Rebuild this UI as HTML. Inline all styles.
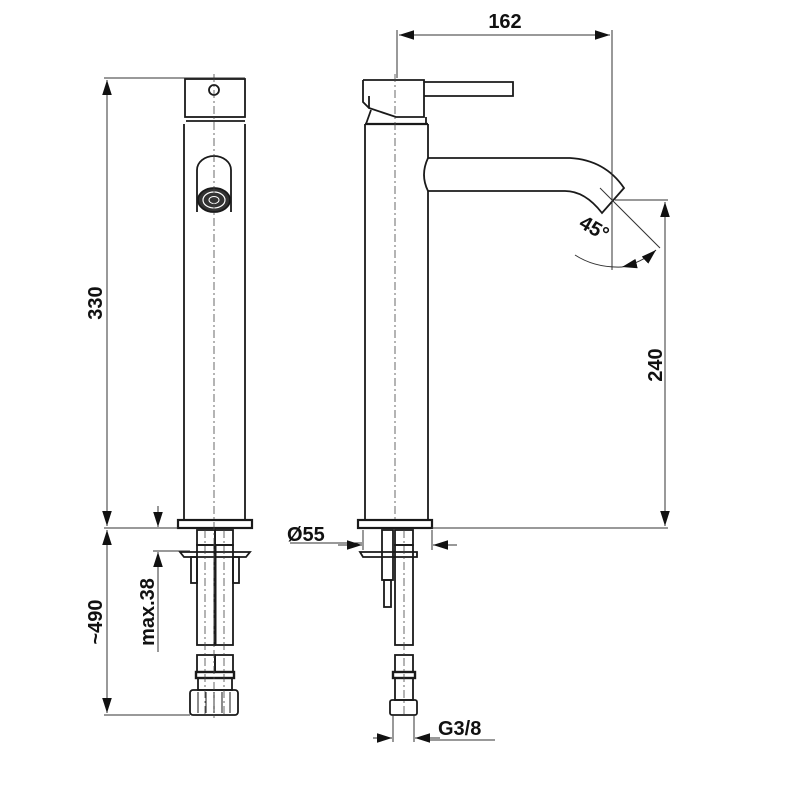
<!DOCTYPE html>
<html><head><style>body{margin:0;background:#fff}svg{display:block}text{font-family:"Liberation Sans",Arial,sans-serif;font-weight:bold;fill:#111}</style></head>
<body>
<svg width="800" height="800" viewBox="0 0 800 800" xmlns="http://www.w3.org/2000/svg">
<defs>
<marker id="a" viewBox="0 0 10 10" refX="10" refY="5" markerWidth="15" markerHeight="15" markerUnits="userSpaceOnUse" orient="auto-start-reverse"><path d="M0,1.8L10,5L0,8.2z" fill="#111"/></marker>
</defs>
<g fill="none" stroke="#1a1a1a" stroke-width="1.8">
<!-- LEFT VIEW -->
<rect x="185" y="79" width="60" height="38"/>
<circle cx="214" cy="90" r="5"/>
<line x1="186" y1="121" x2="245" y2="121"/>
<path d="M184,124V520M245,124V520"/>
<rect x="178" y="520" width="74" height="8" stroke-width="2.2"/>
<path d="M197,212V170a17,14 0 0 1 34,0V212"/>
<ellipse cx="214" cy="200" rx="16" ry="12" fill="#333"/>
<ellipse cx="214" cy="200" rx="11" ry="8" stroke="#fff" stroke-width="1.2"/>
<ellipse cx="214" cy="200" rx="5" ry="3.5" stroke="#fff" stroke-width="1"/>
<!-- under -->
<rect x="197" y="530" width="18" height="15"/><rect x="215" y="530" width="18" height="15"/>
<rect x="197" y="545" width="18" height="100"/><rect x="215" y="545" width="18" height="100"/>
<line x1="215" y1="545" x2="215" y2="645" stroke-width="3"/>
<path d="M180,552H250L246,557H184Z"/>
<rect x="191" y="557" width="6" height="26"/><rect x="233" y="557" width="6" height="26"/>
<rect x="197" y="655" width="18" height="17"/><rect x="215" y="655" width="18" height="17"/>
<rect x="196" y="672" width="38" height="6" stroke-width="2.4"/>
<rect x="198" y="678" width="34" height="12"/>
<rect x="190" y="690" width="48" height="25" rx="3"/>
<path d="M198,692V713M206,692V713M214,692V713M222,692V713M230,692V713" stroke-width="1"/>
<!-- RIGHT VIEW -->
<path d="M363,80H424V117H396L369,108V96"/>
<path d="M363,80V102L369,108"/>
<path d="M424,82H513V96H424"/>
<path d="M371,110L366,124M426,117V124"/>
<line x1="365" y1="124" x2="428" y2="124" stroke-width="2.2"/>
<path d="M365,124V520M428,124V158M428,191V520"/>
<path d="M428,158H570Q605,160 624,188L602,213Q585,191 565,191H428"/>
<path d="M428,158Q420,175 428,191"/>
<rect x="358" y="520" width="74" height="8" stroke-width="2.2"/>
<rect x="382" y="530" width="11" height="50"/><rect x="384" y="580" width="7" height="27"/>
<rect x="395" y="530" width="18" height="15"/>
<rect x="395" y="545" width="18" height="100"/>
<path d="M360,552H417V557H363Z"/>
<rect x="395" y="655" width="18" height="17"/>
<rect x="393" y="672" width="22" height="6" stroke-width="2.4"/>
<rect x="395" y="678" width="18" height="22"/>
<rect x="390" y="700" width="27" height="15" rx="2"/>
</g>
<g stroke="#444" stroke-width="0.8" stroke-dasharray="8,3,2,3" fill="none">
<line x1="214" y1="74" x2="214" y2="718"/>
<line x1="205" y1="530" x2="205" y2="715"/>
<line x1="224" y1="530" x2="224" y2="715"/>
<line x1="395" y1="74" x2="395" y2="520"/>
<line x1="404" y1="530" x2="404" y2="715"/>
</g>
<g stroke="#333" stroke-width="1" fill="none">
<line x1="104" y1="78" x2="245" y2="78"/>
<line x1="104" y1="528" x2="178" y2="528"/>
<line x1="104" y1="715" x2="190" y2="715"/>
<line x1="153" y1="551" x2="190" y2="551"/>
<line x1="107" y1="80" x2="107" y2="526" marker-start="url(#a)" marker-end="url(#a)"/>
<line x1="107" y1="530" x2="107" y2="713" marker-start="url(#a)" marker-end="url(#a)"/>
<line x1="158" y1="506" x2="158" y2="527" marker-end="url(#a)"/>
<line x1="158" y1="652" x2="158" y2="552" marker-end="url(#a)"/>
<line x1="397" y1="30" x2="397" y2="78"/>
<line x1="612" y1="30" x2="612" y2="270"/>
<line x1="399" y1="35" x2="610" y2="35" marker-start="url(#a)" marker-end="url(#a)"/>
<line x1="615" y1="200" x2="668" y2="200"/>
<line x1="432" y1="528" x2="668" y2="528"/>
<line x1="665" y1="202" x2="665" y2="526" marker-start="url(#a)" marker-end="url(#a)"/>
<line x1="600" y1="188" x2="660" y2="248"/>
<path d="M575,255Q595,268 622,267"/>
<path d="M622,267Q643,262 656,250" marker-start="url(#a)" marker-end="url(#a)"/>
<line x1="363" y1="530" x2="363" y2="550"/>
<line x1="432" y1="530" x2="432" y2="550"/>
<line x1="290" y1="543" x2="362" y2="543"/>
<line x1="338" y1="545" x2="362" y2="545" marker-end="url(#a)"/>
<line x1="457" y1="545" x2="433" y2="545" marker-end="url(#a)"/>
<line x1="393" y1="715" x2="393" y2="742"/>
<line x1="414" y1="715" x2="414" y2="742"/>
<line x1="373" y1="738" x2="392" y2="738" marker-end="url(#a)"/>
<line x1="440" y1="738" x2="415" y2="738" marker-end="url(#a)"/>
<line x1="430" y1="740" x2="495" y2="740"/>
</g>
<g font-size="20">
<text x="505" y="28" text-anchor="middle">162</text>
<text transform="translate(102,303) rotate(-90)" text-anchor="middle">330</text>
<text transform="translate(102,622) rotate(-90)" text-anchor="middle">~490</text>
<text transform="translate(154,612) rotate(-90)" text-anchor="middle">max.38</text>
<text transform="translate(662,365) rotate(-90)" text-anchor="middle">240</text>
<text transform="translate(591,234) rotate(30)" text-anchor="middle">45°</text>
<text x="287" y="541">Ø55</text>
<text x="438" y="735">G3/8</text>
</g>
</svg>
</body></html>
